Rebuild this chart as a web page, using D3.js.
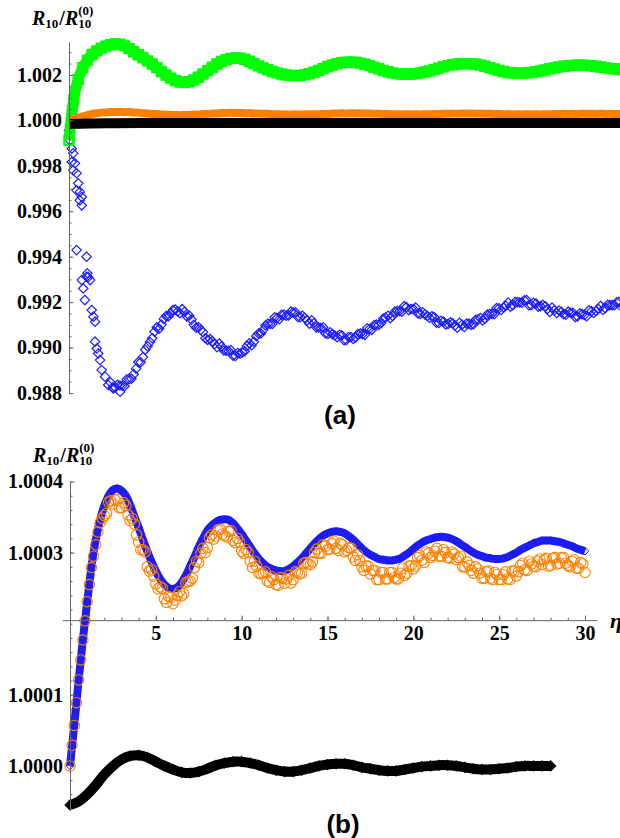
<!DOCTYPE html>
<html>
<head>
<meta charset="utf-8">
<script src="https://cdn.jsdelivr.net/npm/d3@7"></script>
<style>
  body { margin: 0; background: #fff; }
  svg { display: block; }
  .tick text { font-family: 'Liberation Serif', 'DejaVu Serif', serif; font-weight: bold; font-size: 20px; fill: #000; }
  .axis path, .axis line { stroke: #666; }
</style>
</head>
<body>
<div id="chart"></div>
<script>
// ---- data ----
// panel (b): R10/R10(0) against eta, sampled every 0.25
const stepB = 0.25;
const blueB = [
  1.000000, 1.000058, 1.000120, 1.000178, 1.000230, 1.000280, 1.000318, 1.000346, 1.000366, 1.000380,
  1.000388, 1.000390, 1.000387, 1.000380, 1.000367, 1.000351, 1.000335, 1.000318, 1.000302, 1.000287,
  1.000274, 1.000263, 1.000255, 1.000250, 1.000249, 1.000251, 1.000258, 1.000268, 1.000281, 1.000294,
  1.000308, 1.000320, 1.000331, 1.000338, 1.000343, 1.000346, 1.000347, 1.000346, 1.000341, 1.000334,
  1.000326, 1.000317, 1.000308, 1.000299, 1.000291, 1.000285, 1.000280, 1.000277, 1.000275, 1.000274,
  1.000274, 1.000277, 1.000281, 1.000286, 1.000292, 1.000299, 1.000306, 1.000313, 1.000319, 1.000324,
  1.000327, 1.000329, 1.000330, 1.000329, 1.000327, 1.000323, 1.000318, 1.000312, 1.000306, 1.000301,
  1.000297, 1.000294, 1.000291, 1.000290, 1.000289, 1.000289, 1.000290, 1.000292, 1.000296, 1.000300,
  1.000305, 1.000310, 1.000314, 1.000317, 1.000319, 1.000321, 1.000322, 1.000322, 1.000321, 1.000319,
  1.000316, 1.000312, 1.000308, 1.000304, 1.000300, 1.000297, 1.000295, 1.000293, 1.000292, 1.000291,
  1.000291, 1.000292, 1.000294, 1.000297, 1.000300, 1.000304, 1.000307, 1.000310, 1.000313, 1.000315,
  1.000317, 1.000317, 1.000317, 1.000316, 1.000315, 1.000313, 1.000311, 1.000309, 1.000306, 1.000304,
  1.000302
];
// orange circles: two interleaved sample sets (eta = 0, 0.25, ... and 0.125, 0.375, ...)
const orangeB = [
  1.000000, 1.000057, 1.000121, 1.000177, 1.000231, 1.000279, 1.000311, 1.000342, 1.000352, 1.000371,
  1.000368, 1.000375, 1.000363, 1.000366, 1.000345, 1.000340, 1.000315, 1.000304, 1.000280, 1.000276,
  1.000256, 1.000252, 1.000235, 1.000238, 1.000228, 1.000240, 1.000239, 1.000258, 1.000260, 1.000279,
  1.000286, 1.000306, 1.000307, 1.000325, 1.000323, 1.000333, 1.000324, 1.000330, 1.000317, 1.000320,
  1.000302, 1.000304, 1.000288, 1.000288, 1.000271, 1.000271, 1.000260, 1.000266, 1.000255, 1.000265,
  1.000257, 1.000268, 1.000262, 1.000272, 1.000271, 1.000286, 1.000283, 1.000300, 1.000299, 1.000311,
  1.000304, 1.000313, 1.000306, 1.000313, 1.000301, 1.000307, 1.000294, 1.000297, 1.000280, 1.000281,
  1.000270, 1.000275, 1.000262, 1.000272, 1.000263, 1.000272, 1.000263, 1.000271, 1.000268, 1.000281,
  1.000277, 1.000293, 1.000289, 1.000301, 1.000293, 1.000302, 1.000295, 1.000304, 1.000293, 1.000301,
  1.000290, 1.000295, 1.000280, 1.000282, 1.000271, 1.000277, 1.000264, 1.000273, 1.000264, 1.000272,
  1.000262, 1.000269, 1.000263, 1.000274, 1.000267, 1.000282, 1.000276, 1.000288, 1.000281, 1.000288,
  1.000283, 1.000292, 1.000282, 1.000293, 1.000285, 1.000293, 1.000282, 1.000288, 1.000278, 1.000286,
  1.000272
];
const orangeB2Start = 0.125;
const orangeB2 = [
  1.000029, 1.000089, 1.000149, 1.000204, 1.000255, 1.000295, 1.000329, 1.000348, 1.000355, 1.000373,
  1.000374, 1.000363, 1.000370, 1.000353, 1.000348, 1.000325, 1.000304, 1.000301, 1.000274, 1.000267,
  1.000249, 1.000250, 1.000230, 1.000237, 1.000233, 1.000245, 1.000242, 1.000259, 1.000264, 1.000288,
  1.000299, 1.000300, 1.000321, 1.000319, 1.000332, 1.000326, 1.000322, 1.000331, 1.000314, 1.000315,
  1.000299, 1.000300, 1.000279, 1.000281, 1.000270, 1.000273, 1.000258, 1.000262, 1.000254, 1.000264,
  1.000263, 1.000257, 1.000273, 1.000270, 1.000285, 1.000284, 1.000287, 1.000305, 1.000299, 1.000309,
  1.000305, 1.000316, 1.000303, 1.000311, 1.000303, 1.000306, 1.000289, 1.000289, 1.000275, 1.000281,
  1.000275, 1.000262, 1.000272, 1.000263, 1.000272, 1.000265, 1.000263, 1.000278, 1.000271, 1.000282,
  1.000281, 1.000296, 1.000286, 1.000299, 1.000296, 1.000306, 1.000295, 1.000300, 1.000292, 1.000298,
  1.000293, 1.000280, 1.000287, 1.000275, 1.000280, 1.000271, 1.000264, 1.000274, 1.000262, 1.000269,
  1.000262, 1.000273, 1.000262, 1.000274, 1.000273, 1.000285, 1.000275, 1.000284, 1.000280, 1.000291,
  1.000290, 1.000281, 1.000292, 1.000284, 1.000293, 1.000285, 1.000280, 1.000290, 1.000278, 1.000284
];
// black trace, sampled every 0.5
const stepBlackB = 0.5;
const blackB = [
  0.999945, 0.999950, 0.999960, 0.999973, 0.999988, 1.000000, 1.000009, 1.000014, 1.000015, 1.000012,
  1.000006, 1.000000, 0.999995, 0.999991, 0.999990, 0.999992, 0.999996, 1.000001, 1.000004, 1.000006,
  1.000006, 1.000004, 1.000001, 0.999997, 0.999994, 0.999992, 0.999992, 0.999994, 0.999997, 1.000000,
  1.000002, 1.000003, 1.000003, 1.000001, 0.999998, 0.999996, 0.999994, 0.999993, 0.999993, 0.999995,
  0.999997, 0.999999, 1.000000, 1.000001, 1.000001, 1.000000, 0.999998, 0.999996, 0.999995, 0.999995,
  0.999996, 0.999997, 0.999999, 1.000000, 1.000000, 1.000000, 1.000000
];

// panel (a)
const stepGreenA = 0.25;
const greenA = [
  0.99912, 1.00090, 1.00180, 1.00232, 1.00265, 1.00290, 1.00306, 1.00318, 1.00327, 1.00333,
  1.00336, 1.00335, 1.00328, 1.00316, 1.00302, 1.00289, 1.00276, 1.00262, 1.00248, 1.00232,
  1.00215, 1.00200, 1.00186, 1.00175, 1.00169, 1.00167, 1.00170, 1.00178, 1.00190, 1.00204,
  1.00219, 1.00234, 1.00248, 1.00259, 1.00267, 1.00273, 1.00275, 1.00274, 1.00269, 1.00260,
  1.00250, 1.00240, 1.00231, 1.00223, 1.00215, 1.00209, 1.00204, 1.00200, 1.00198, 1.00197,
  1.00198, 1.00201, 1.00206, 1.00212, 1.00220, 1.00228, 1.00237, 1.00244, 1.00250, 1.00254,
  1.00256, 1.00256, 1.00255, 1.00252, 1.00247, 1.00241, 1.00234, 1.00227, 1.00220, 1.00214,
  1.00209, 1.00206, 1.00204, 1.00203, 1.00204, 1.00206, 1.00209, 1.00213, 1.00218, 1.00224,
  1.00230, 1.00236, 1.00241, 1.00245, 1.00248, 1.00250, 1.00250, 1.00249, 1.00247, 1.00243,
  1.00238, 1.00232, 1.00226, 1.00220, 1.00215, 1.00211, 1.00209, 1.00208, 1.00208, 1.00209,
  1.00211, 1.00214, 1.00218, 1.00222, 1.00227, 1.00231, 1.00235, 1.00238, 1.00240, 1.00242,
  1.00243, 1.00243, 1.00242, 1.00240, 1.00238, 1.00235, 1.00232, 1.00229, 1.00227, 1.00225,
  1.00224
];
const stepBlackA = 2;
const blackA = [0.99984, 0.99987, 0.99988, 0.99988, 0.99988, 0.99988, 0.99988, 0.99988,
  0.99988, 0.99988, 0.99988, 0.99988, 0.99988, 0.99988, 0.99988, 0.99988];
// scattered early points of the blue diamonds [eta, value]
const blueAEarly = [
  [0.00, 0.99956], [0.05, 0.99912], [0.15, 0.99875], [0.23, 0.99855], [0.15, 0.99817],
  [0.32, 0.99811], [0.23, 0.99780], [0.41, 0.99767], [0.50, 0.99723], [0.41, 0.99692],
  [0.59, 0.99685], [0.69, 0.99663], [0.59, 0.99648], [0.69, 0.99626], [0.41, 0.99429],
  [0.95, 0.99400], [0.99, 0.99327], [1.04, 0.99310], [0.69, 0.99297], [0.77, 0.99260],
  [0.95, 0.99312], [1.14, 0.99297], [0.86, 0.99209], [1.23, 0.99165], [1.32, 0.99136],
  [1.41, 0.99114], [1.41, 0.99026], [1.50, 0.98996], [1.58, 0.98974], [1.68, 0.98945],
  [1.77, 0.98901], [1.95, 0.98872], [2.12, 0.98835], [2.39, 0.98820], [2.76, 0.98806]
];
const stepBlueA = 0.25;
const blueAStart = 2.25;
const blueA = [
  0.98846, 0.98824, 0.98833, 0.98830, 0.98861, 0.98883, 0.98936, 0.98958, 0.99006, 0.99041,
  0.99089, 0.99101, 0.99139, 0.99151, 0.99167, 0.99151, 0.99157, 0.99141, 0.99100, 0.99090,
  0.99068, 0.99034, 0.99028, 0.99002, 0.99005, 0.98986, 0.98989, 0.98963, 0.98973, 0.98984,
  0.99019, 0.99026, 0.99062, 0.99077, 0.99105, 0.99104, 0.99130, 0.99144, 0.99140, 0.99158,
  0.99155, 0.99134, 0.99131, 0.99105, 0.99107, 0.99088, 0.99089, 0.99060, 0.99059, 0.99046,
  0.99054, 0.99033, 0.99046, 0.99045, 0.99062, 0.99056, 0.99082, 0.99098, 0.99100, 0.99128,
  0.99140, 0.99139, 0.99161, 0.99158, 0.99178, 0.99170, 0.99176, 0.99148, 0.99146, 0.99131,
  0.99134, 0.99108, 0.99114, 0.99104, 0.99107, 0.99087, 0.99100, 0.99106, 0.99100, 0.99122,
  0.99130, 0.99127, 0.99148, 0.99147, 0.99173, 0.99176, 0.99198, 0.99187, 0.99200, 0.99197,
  0.99209, 0.99187, 0.99194, 0.99182, 0.99182, 0.99157, 0.99164, 0.99163, 0.99147, 0.99158,
  0.99153, 0.99137, 0.99147, 0.99138, 0.99160, 0.99161, 0.99183, 0.99173, 0.99187, 0.99186,
  0.99201, 0.99184
];
const blueA2Start = 2.375;
const blueA2 = [
  0.98825, 0.98836, 0.98832, 0.98860, 0.98863, 0.98907, 0.98935, 0.98990, 0.99024, 0.99070,
  0.99083, 0.99126, 0.99137, 0.99165, 0.99159, 0.99169, 0.99137, 0.99123, 0.99087, 0.99077,
  0.99041, 0.99038, 0.99015, 0.99018, 0.98987, 0.98985, 0.98964, 0.98976, 0.98979, 0.99007,
  0.99010, 0.99050, 0.99062, 0.99097, 0.99104, 0.99133, 0.99125, 0.99145, 0.99141, 0.99155,
  0.99135, 0.99140, 0.99119, 0.99120, 0.99089, 0.99086, 0.99062, 0.99067, 0.99053, 0.99056,
  0.99032, 0.99046, 0.99038, 0.99059, 0.99059, 0.99085, 0.99078, 0.99101, 0.99107, 0.99132,
  0.99129, 0.99158, 0.99160, 0.99182, 0.99165, 0.99170, 0.99150, 0.99155, 0.99139, 0.99138,
  0.99109, 0.99118, 0.99102, 0.99111, 0.99097, 0.99109, 0.99091, 0.99105, 0.99103, 0.99124,
  0.99119, 0.99145, 0.99148, 0.99174, 0.99166, 0.99184, 0.99180, 0.99201, 0.99199, 0.99208,
  0.99186, 0.99197, 0.99180, 0.99188, 0.99170, 0.99176, 0.99152, 0.99157, 0.99145, 0.99153,
  0.99135, 0.99150, 0.99143, 0.99164, 0.99152, 0.99170, 0.99166, 0.99188, 0.99187, 0.99199,
  0.99180
];

// ticks
const yTicksA = [0.988, 0.990, 0.992, 0.994, 0.996, 0.998, 1.000, 1.002];
const yTicksB = [1.0000, 1.0001, 1.0003, 1.0004];
const xTicksB = [5, 10, 15, 20, 25, 30];

// ---- drawing ----
const width = 620;
const height = 838;
const svg = d3.select('#chart').append('svg')
  .attr('width', width)
  .attr('height', height);

const xA = d3.scaleLinear().domain([0, 29.8]).range([69, 620]);
const yA = d3.scaleLinear().domain([0.988, 1.00345]).range([393, 42]);
const xB = d3.scaleLinear().domain([-0.45, 30.7]).range([62.3, 597]);
const yB = d3.scaleLinear().domain([0.999938, 1.0004]).range([810, 481.5]);
const originB = 1.000205; // where the eta axis crosses in (b)

const seq = (vals, step, start = 0) => vals.map((v, i) => [start + i * step, v]);
const diamond = r => `M0,${-r}L${r},0L0,${r}L${-r},0Z`;
const square = s => `M${-s},${-s}h${2 * s}v${2 * s}h${-2 * s}Z`;

function band(g, x, y, pts, color, w) {
  g.append('path')
    .attr('d', d3.line().x(d => x(d[0])).y(d => y(d[1])).curve(d3.curveCatmullRom)(pts))
    .attr('fill', 'none')
    .attr('stroke', color)
    .attr('stroke-width', w)
    .attr('stroke-linejoin', 'round');
}

function markers(g, x, y, pts, shape, opts) {
  g.selectAll(null)
    .data(pts)
    .enter()
    .append('path')
    .attr('transform', d => `translate(${x(d[0])},${y(d[1])})`)
    .attr('d', shape)
    .attr('fill', opts.fill || 'none')
    .attr('stroke', opts.stroke)
    .attr('stroke-width', opts.sw);
}

function drawTitle(x, y) {
  const t = svg.append('text')
    .attr('x', x)
    .attr('y', y)
    .style('font-family', "'Liberation Serif', serif")
    .style('font-weight', 'bold')
    .style('font-size', '20px');
  t.append('tspan').text('R').style('font-style', 'italic');
  t.append('tspan').text('10').style('font-size', '13px').attr('dy', 3);
  t.append('tspan').text('/').attr('dy', -3).attr('dx', 1);
  t.append('tspan').text('R').style('font-style', 'italic');
  t.append('tspan').text('10').style('font-size', '13px').attr('dy', 3);
  const p = t.node().getStartPositionOfChar(5);
  svg.append('text')
    .attr('x', p.x)
    .attr('y', y - 10)
    .style('font-family', "'Liberation Serif', serif")
    .style('font-weight', 'bold')
    .style('font-size', '13px')
    .text('(0)');
}

// ---------- panel (a) ----------
const pa = svg.append('g');
const diaA = diamond(4.7);
const blueStyle = { stroke: '#1c1cff', sw: 1.2 };
markers(pa, xA, yA, blueAEarly, diaA, blueStyle);
markers(pa, xA, yA, seq(blueA, stepBlueA, blueAStart), diaA, blueStyle);
markers(pa, xA, yA, seq(blueA2, stepBlueA, blueA2Start), diaA, blueStyle);
const greenPts = seq(greenA, stepGreenA);
band(pa, xA, yA, greenPts, '#00ff00', 11);
markers(pa, xA, yA, greenPts, square(4.6), { stroke: '#00ff00', sw: 2.2, fill: 'none' });
band(pa, xA, yA, seq(orangeB, stepB), '#ff8000', 8);
band(pa, xA, yA, seq(blackA, stepBlackA), '#000', 10);

pa.append('g')
  .attr('class', 'axis')
  .attr('transform', `translate(${xA(0)},0)`)
  .call(d3.axisLeft(yA).tickValues(d3.range(0, 32).map(i => 0.988 + i * 0.0005).filter(v => v <= 1.00345))
    .tickSize(-2.5).tickSizeOuter(0).tickFormat(''));
pa.append('g')
  .attr('class', 'axis')
  .attr('transform', `translate(${xA(0)},0)`)
  .call(d3.axisLeft(yA).tickValues(yTicksA).tickSize(-4.5).tickSizeOuter(0)
    .tickPadding(7).tickFormat(d3.format('.3f')))
  .call(g => g.select('.domain').remove());

drawTitle(32, 25);
svg.append('text')
  .attr('x', 340).attr('y', 424)
  .attr('text-anchor', 'middle')
  .style('font-family', "'Liberation Sans', Arial, sans-serif")
  .style('font-weight', 'bold')
  .style('font-size', '26px')
  .text('(a)');

// ---------- panel (b) ----------
const pb = svg.append('g');
const bluePts = seq(blueB, stepB);
band(pb, xB, yB, bluePts, '#1e1ef0', 8);
markers(pb, xB, yB, bluePts, diamond(3.8), { stroke: '#1a1aff', sw: 1 });
const circ = d3.symbol().type(d3.symbolCircle).size(Math.PI * 27);
markers(pb, xB, yB, seq(orangeB, stepB), circ, { stroke: '#ff8000', sw: 1.1 });
markers(pb, xB, yB, seq(orangeB2, stepB, orangeB2Start), circ, { stroke: '#ff8000', sw: 1.1 });
const blackPts = seq(blackB, stepBlackB);
band(pb, xB, yB, blackPts, '#000', 10);
markers(pb, xB, yB, blackPts, diamond(5.8), { stroke: 'none', sw: 0, fill: '#000' });

pb.append('g')
  .attr('class', 'axis')
  .attr('transform', `translate(${xB(0)},0)`)
  .call(d3.axisLeft(yB).tickValues(d3.range(0, 24).map(i => 0.99994 + i * 0.00002).filter(v => v <= 1.0004))
    .tickSize(-2.5).tickSizeOuter(0).tickFormat(''));
pb.append('g')
  .attr('class', 'axis')
  .attr('transform', `translate(${xB(0)},0)`)
  .call(d3.axisLeft(yB).tickValues(yTicksB).tickSize(-4.5).tickSizeOuter(0)
    .tickPadding(7).tickFormat(d3.format('.4f')))
  .call(g => g.select('.domain').remove());

pb.append('g')
  .attr('class', 'axis')
  .attr('transform', `translate(0,${yB(originB)})`)
  .call(d3.axisBottom(xB).tickValues(d3.range(1, 31)).tickSize(-2.5).tickSizeOuter(0).tickFormat(''));
pb.append('g')
  .attr('class', 'axis')
  .attr('transform', `translate(0,${yB(originB)})`)
  .call(d3.axisBottom(xB).tickValues(xTicksB).tickSize(-4.5).tickSizeOuter(0).tickPadding(6))
  .call(g => g.select('.domain').remove());

svg.append('text')
  .attr('x', 610).attr('y', 628)
  .style('font-family', "'Liberation Serif', serif")
  .style('font-weight', 'bold')
  .style('font-style', 'italic')
  .style('font-size', '22px')
  .text('η');

drawTitle(33, 462);
svg.append('text')
  .attr('x', 343).attr('y', 833)
  .attr('text-anchor', 'middle')
  .style('font-family', "'Liberation Sans', Arial, sans-serif")
  .style('font-weight', 'bold')
  .style('font-size', '26px')
  .text('(b)');
</script>
</body>
</html>
